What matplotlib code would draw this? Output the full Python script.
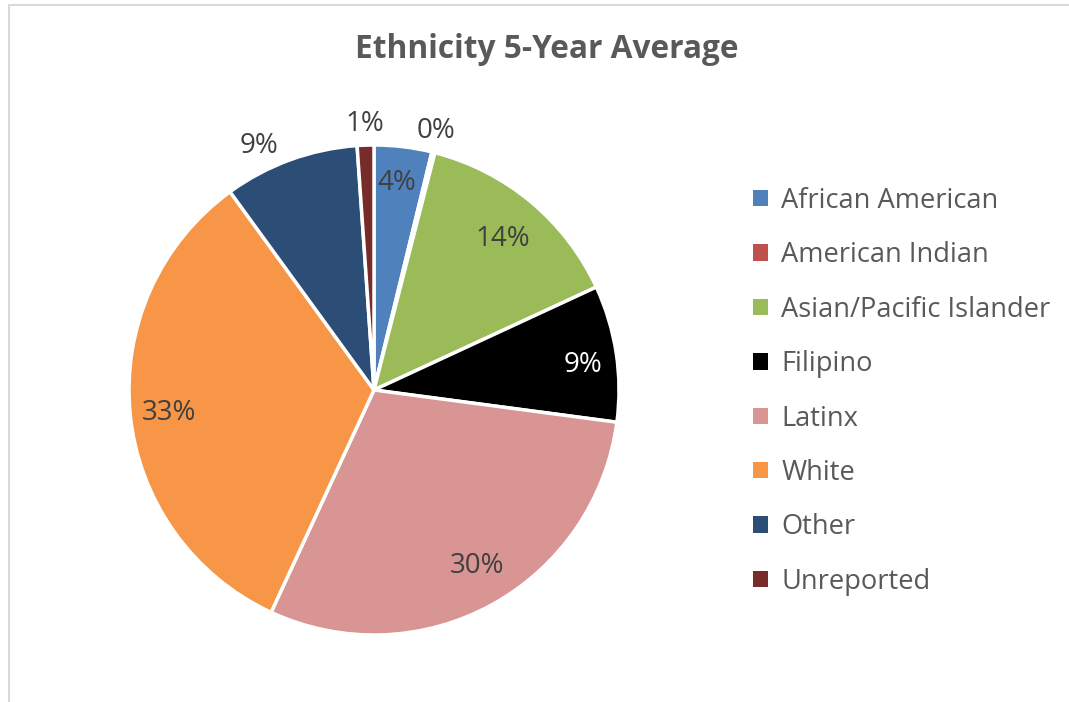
import numpy as np
import matplotlib
matplotlib.use('Agg')
import matplotlib.pyplot as plt
from matplotlib.patches import Rectangle

# data
groups = ["African American", "American Indian", "Asian/Pacific Islander",
          "Filipino", "Latinx", "White", "Other", "Unreported"]
shares = [3.8, 0.2, 14.1, 9.0, 29.8, 33.1, 8.9, 1.1]
pct_labels = ["4%", "0%", "14%", "9%", "30%", "33%", "9%", "1%"]
colors = ["#4F81BD", "#C0504D", "#9BBB59", "#000000",
          "#D99594", "#F79646", "#2C4D75", "#772C2A"]
label_colors = ["#404040", "#404040", "#404040", "#FFFFFF",
                "#404040", "#404040", "#404040", "#404040"]

# label placement: radius as fraction of pie radius, angle nudge in degrees
label_r = [0.86, 1.10, 0.82, 0.86, 0.82, 0.84, 1.11, 1.10]
label_nudge = [0.6, 0.7, 0.0, -1.0, 2.0, 0.0, 5.0, 0.0]

plt.rcParams['font.family'] = ['Open Sans', 'DejaVu Sans']

W, H = 1069, 702
fig = plt.figure(figsize=(W / 100, H / 100), dpi=100)
fig.patch.set_facecolor('white')

# chart border (only left/top visible in the crop)
fig.patches.append(Rectangle((9 / W, -0.05), 1.2, 1 - 5 / H + 0.05,
                             transform=fig.transFigure, fill=False,
                             edgecolor='#D9D9D9', linewidth=1.5))

cx, cy, R = 374, 390, 245
ax = fig.add_axes([(cx - R) / W, (H - cy - R) / H, 2 * R / W, 2 * R / H])
wedges, _ = ax.pie(shares, colors=colors, startangle=90, counterclock=False,
                   radius=1.0, wedgeprops=dict(edgecolor='white', linewidth=2.5))
ax.set_xlim(-1, 1)
ax.set_ylim(-1, 1)
ax.set_aspect('equal')
ax.axis('off')

for w, lab, r, nd, c in zip(wedges, pct_labels, label_r, label_nudge, label_colors):
    mid = np.deg2rad((w.theta1 + w.theta2) / 2 + nd)
    ax.text(r * np.cos(mid), r * np.sin(mid) - 0.012, lab, ha='center',
            va='center', fontsize=20, color=c, clip_on=False)

fig.text(547 / W, 1 - 50 / H, "Ethnicity 5-Year Average", ha='center',
         va='center', fontsize=22.8, fontweight='bold', color='#595959')

leg = fig.legend(wedges, groups, loc='upper left',
                 bbox_to_anchor=(742 / W, 1 - 176 / H), frameon=False,
                 fontsize=19.6, labelcolor='#595959', handlelength=0.55,
                 handleheight=0.55, handletextpad=0.5, labelspacing=0.97,
                 borderaxespad=0)
for h in leg.legend_handles:
    h.set_edgecolor('none')

plt.savefig('out.png', dpi=100)
